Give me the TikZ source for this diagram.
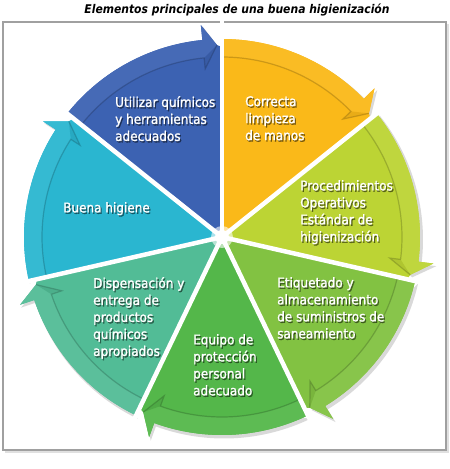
\documentclass[tikz,border=0pt]{standalone}
\usepackage{fontspec}
\setmainfont{DejaVu Sans Condensed}
\newfontfamily\lblfont[FakeBold=1.2]{DejaVu Sans Condensed}
\usetikzlibrary{calc}
\definecolor{cblue}{RGB}{60,98,178}
\definecolor{cyellow}{RGB}{250,185,25}
\definecolor{clime}{RGB}{188,212,52}
\definecolor{cmgreen}{RGB}{130,194,66}
\definecolor{cgreen}{RGB}{84,183,74}
\definecolor{cteal}{RGB}{82,188,150}
\definecolor{ccyan}{RGB}{42,182,208}
\definecolor{frame}{RGB}{160,160,160}
\tikzset{
  lbl/.style={anchor=north west, inner sep=0pt, align=left, text=white,
    font=\lblfont\fontsize{13.4}{17}\selectfont},
  lblsh/.style={lbl, text=black, opacity=0.45},
  ttl/.style={inner sep=0pt, font=\fontsize{12}{14}\selectfont\bfseries\itshape}
}
\newcommand\wlabel[4]{%
  \node[lblsh] (#1s) at (#2+1.2,#3+1.5) {#4};
  \node[lbl] (#1) at (#2,#3) {#4};}
\begin{document}
\begin{tikzpicture}[x=1pt,y=-1pt]
\useasboundingbox (0,0) rectangle (450,469);
\fill[white] (0,0) rectangle (450,469);
% frame
\draw[black!12, line width=2] (5,452) -- (448,452) -- (448,24);
\draw[frame, line width=1.5] (3,22) rectangle (446,450);
% title
\node[ttl] (title) at (237,10) {Elementos principales de una buena higienización};
\begin{scope}[shift={(222,237)}]
  % shadows of arrows
  \foreach \s in {-90,-38.5714,12.8571,64.2857,115.7143,167.1429,218.5714}{
    \pgfmathsetmacro\e{\s+51.4286}
    \pgfmathsetmacro\b{\e-5.7}
    \pgfmathsetmacro\t{\e-1.5}
    \fill[black,opacity=0.15] ([shift={(2,2.5)}]\s:199) arc[start angle=\s, end angle=\b, radius=199]
      -- ([shift={(2,2.5)}]\b:214) -- ([shift={(2,2.5)}]\t:192) -- ([shift={(2,2.5)}]\b:169) -- cycle;
  }
  % bodies
  \foreach \s/\col in {-90/cyellow,-38.5714/clime,12.8571/cmgreen,64.2857/cgreen,115.7143/cteal,167.1429/ccyan,218.5714/cblue}{
    \pgfmathsetmacro\e{\s+51.4286}
    \pgfmathsetmacro\b{\e-5.7}
    \pgfmathsetmacro\t{\e-1.5}
    \fill[\col] (0,0) -- (\s:198) arc[start angle=\s, end angle=\b, radius=198]
      -- (\b:213) -- (\t:192) -- (\e:190) -- cycle;
    % band
    \fill[\col!95!white] (\s:198) arc[start angle=\s, end angle=\b, radius=198]
      -- (\b:213) -- (\t:192) -- (\b:169) -- (\b:180) arc[start angle=\b, end angle=\s, radius=180] -- cycle;
    % arrowhead shade
    \fill[\col!93!black] (\b:180) -- (\t:192) -- (\b:169) -- cycle;
    % inner edge shadow
    \draw[\col!60!black, opacity=0.45, line width=1.2] (\s:180) arc[start angle=\s, end angle=\b, radius=180]
      -- (\b:169) -- (\t:192);
  }
  % white gaps
  \foreach \a in {-90,-38.5714,12.8571,64.2857,115.7143,167.1429,218.5714}{
    \draw[white, line width=4.5] (0,0) -- (\a:216);
  }
  \fill[white] (0,0) circle (7);
  \fill[white, opacity=0.6] (0,0) circle (11);
\end{scope}
% labels
\wlabel{u}{115}{96}{Utilizar químicos\\y herramientas\\adecuados}
\wlabel{c}{245}{96}{Correcta\\limpieza\\de manos}
\wlabel{p}{300}{180}{Procedimientos\\Operativos\\Estándar de\\higienización}
\wlabel{e}{277}{277}{Etiquetado y\\almacenamiento\\de suministros de\\saneamiento}
\wlabel{q}{193}{334}{Equipo de\\protección\\personal\\adecuado}
\wlabel{d}{93}{277}{Dispensación y\\entrega de\\productos\\químicos\\apropiados}
\wlabel{b}{63}{202}{Buena higiene}
\end{tikzpicture}
\end{document}
